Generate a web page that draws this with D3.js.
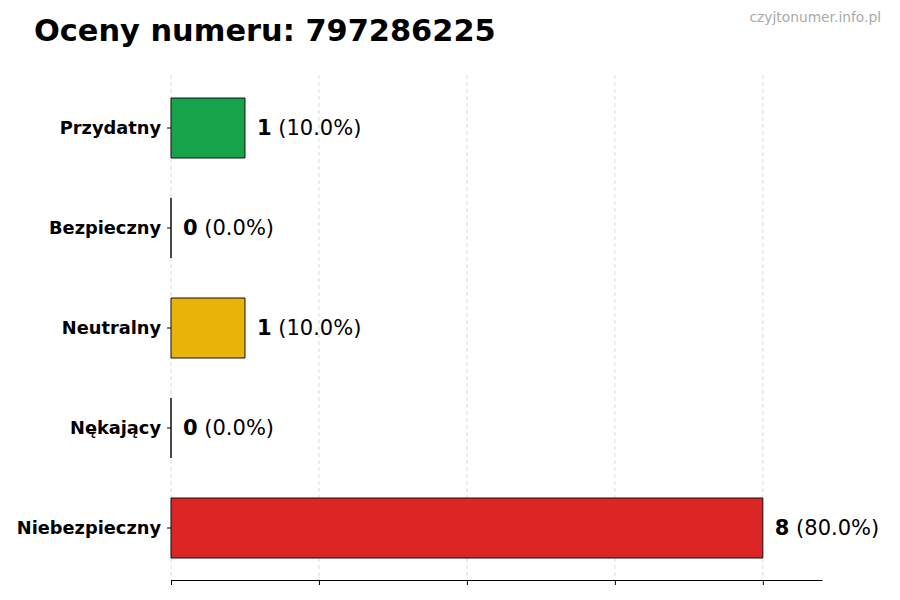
<!DOCTYPE html>
<html lang="pl">
<head>
    <meta charset="utf-8">
    <script src="https://d3js.org/d3.v7.min.js"></script>
    <style>
        body { margin: 0; background: white; }
        svg text { font-family: "DejaVu Sans", sans-serif; }
    </style>
</head>
<body>
<div id="chart"></div>
<script>
    // dane
    const categories = ["Przydatny", "Bezpieczny", "Neutralny", "Nękający", "Niebezpieczny"]
    const counts = [1, 0, 1, 0, 8]
    const percents = ["10.0%", "0.0%", "10.0%", "0.0%", "80.0%"]
    const colors = ["#16a34a", "#16a34a", "#eab308", "#dc2626", "#dc2626"]
    const xTicks = [0, 2, 4, 6, 8]

    const width = 900
    const height = 600
    const margin = {top: 78, right: 78, bottom: 20, left: 171}

    const data = categories.map((c, i) => ({cat: c, n: counts[i], pct: percents[i], color: colors[i]}))

    const svg = d3.select("#chart").append("svg")
        .attr("width", width)
        .attr("height", height)

    const xScale = d3.scaleLinear().domain([0, 8.8]).range([margin.left, width - margin.right])
    const yScale = d3.scaleBand().domain(categories).range([margin.top, height - margin.bottom - 2]).paddingInner(0.4).paddingOuter(0.2)

    // siatka
    svg.append("g")
        .selectAll("line")
        .data(xTicks)
        .join("line")
        .attr("x1", d => xScale(d))
        .attr("x2", d => xScale(d))
        .attr("y1", margin.top - 3)
        .attr("y2", 580)
        .attr("stroke", "#d0d0d0")
        .attr("stroke-width", 0.8)
        .attr("stroke-dasharray", "4,3")

    // słupki (path, żeby zerowe słupki też miały obrys)
    svg.append("g")
        .selectAll("path")
        .data(data)
        .join("path")
        .attr("d", d => {
            const x0 = xScale(0), w = xScale(d.n) - xScale(0)
            const y0 = yScale(d.cat), h = yScale.bandwidth()
            return "M" + x0 + "," + y0 + "h" + w + "v" + h + "h" + (-w) + "Z"
        })
        .attr("fill", d => d.color)
        .attr("stroke", "#111")
        .attr("stroke-width", 1)

    // etykiety wartości
    const labels = svg.append("g")
        .selectAll("text")
        .data(data)
        .join("text")
        .attr("x", d => xScale(d.n) + 12)
        .attr("y", d => yScale(d.cat) + yScale.bandwidth() / 2)
        .attr("dy", "0.35em")
        .style("font-size", "21px")
    labels.append("tspan").style("font-weight", "bold").text(d => d.n)
    labels.append("tspan").text(d => " (" + d.pct + ")")

    // oś Y
    const yAxis = d3.axisLeft(yScale).tickSize(4).tickPadding(6)
    const gy = svg.append("g")
        .attr("transform", "translate(" + margin.left + ",0)")
        .call(yAxis)
    gy.select(".domain").remove()
    gy.selectAll("text")
        .style("font-size", "17.8px")
        .style("font-weight", "bold")
        .attr("fill", "#000")

    // oś X bez etykiet
    const xAxis = d3.axisBottom(xScale).tickValues(xTicks).tickFormat("").tickSize(5).tickSizeOuter(0)
    const gx = svg.append("g")
        .attr("transform", "translate(0,580)")
        .call(xAxis)
    gx.select(".domain").attr("stroke", "#000")

    // tytuł
    svg.append("text")
        .attr("x", 34)
        .attr("y", 41)
        .style("font-size", "30.4px")
        .style("font-weight", "bold")
        .text("Oceny numeru: 797286225")

    svg.append("text")
        .attr("x", 881)
        .attr("y", 22)
        .attr("text-anchor", "end")
        .style("font-size", "13.8px")
        .attr("fill", "#aaaaaa")
        .text("czyjtonumer.info.pl")
</script>
</body>
</html>
